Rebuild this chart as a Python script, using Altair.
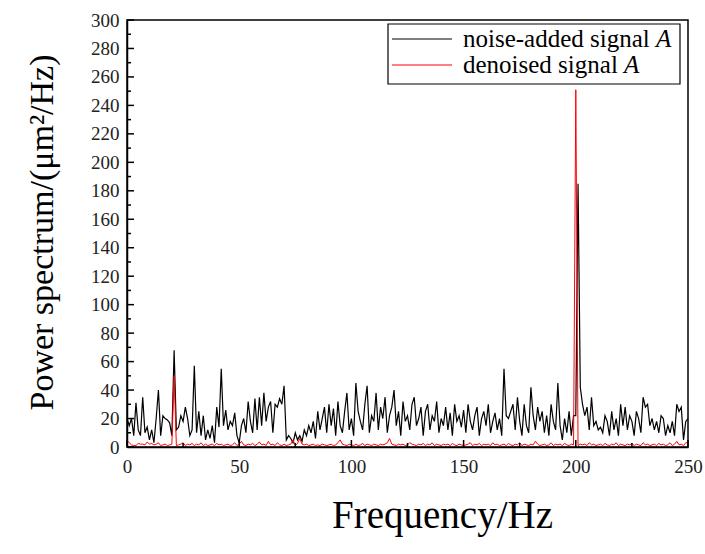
import altair as alt
import pandas as pd

freq = list(range(0, 251))

noise_added = [
    20, 15, 20, 8, 31, 12, 8, 35, 10, 14, 5, 12, 3, 20, 40, 8, 22, 20, 19, 17,
    8, 68, 12, 14, 22, 18, 28, 20, 8, 12, 57, 10, 25, 8, 22, 5, 12, 6, 15, 3,
    28, 14, 55, 15, 26, 12, 18, 15, 24, 8, 3, 15, 20, 10, 32, 18, 10, 34, 12, 35,
    15, 38, 18, 28, 32, 10, 30, 28, 34, 30, 43, 5, 8, 6, 3, 10, 5, 8, 4, 12,
    8, 15, 10, 18, 6, 25, 12, 20, 28, 10, 30, 15, 27, 8, 32, 15, 10, 25, 38, 12,
    20, 8, 45, 25, 18, 12, 30, 43, 10, 22, 18, 38, 12, 28, 20, 35, 10, 22, 28, 40,
    15, 25, 8, 32, 18, 22, 12, 30, 35, 15, 20, 28, 8, 25, 30, 12, 22, 18, 32, 10,
    20, 15, 28, 12, 24, 8, 30, 18, 22, 14, 26, 10, 30, 18, 12, 22, 28, 8, 20, 25,
    15, 30, 10, 18, 24, 12, 20, 8, 55, 22, 20, 25, 30, 12, 35, 18, 8, 30, 15, 10,
    42, 22, 12, 28, 18, 25, 10, 22, 8, 30, 18, 12, 45, 15, 5, 20, 10, 25, 8, 22,
    22, 185, 42, 30, 22, 28, 12, 35, 15, 18, 12, 14, 10, 22, 18, 8, 25, 12, 20, 8,
    30, 15, 28, 12, 22, 18, 8, 25, 20, 10, 35, 28, 30, 15, 20, 12, 18, 10, 22, 20,
    8, 15, 10, 18, 8, 30, 25, 28, 5, 18, 20,
]

denoised = [
    5, 3, 1.5, 1, 1, 2.5, 2, 2, 1.5, 3.5, 2, 2.5, 1.5, 2, 3, 1, 1.5, 2, 1, 1.5,
    2, 50, 1, 1.5, 2, 3, 1, 2, 1.5, 2.5, 1, 2, 1.5, 3, 1, 2, 1, 1.5, 2, 1,
    2.5, 1.5, 2, 1, 1.5, 2, 1, 1.5, 3, 1, 2, 4, 1.5, 1, 2, 1.5, 2.5, 1, 2, 3.5,
    1.5, 2, 1, 4, 1.5, 2, 1, 3, 1.5, 1, 2, 1, 1.5, 2, 5, 1, 2.5, 6, 2, 1.5,
    2, 1, 1.5, 2, 1, 1.5, 1, 2, 1.5, 1, 1.5, 2, 1, 1.5, 3, 5, 2, 1.5, 1, 2,
    1.5, 1, 2, 1, 1.5, 2.5, 1, 2, 1.5, 1, 2, 1.5, 1, 2, 1.5, 2, 3, 6, 2, 1.5,
    1, 2, 1.5, 2, 1, 1.5, 3, 2, 1.5, 1, 2, 1.5, 2.5, 1, 2, 1.5, 3, 1, 2, 1.5,
    1, 2, 1.5, 2, 1, 2.5, 1.5, 1, 2, 1.5, 1, 1.5, 2, 3, 1, 2, 1.5, 2.5, 1, 2,
    1.5, 2, 1, 3, 1.5, 2, 1, 1.5, 2, 1, 2.5, 1.5, 1, 2, 1.5, 3, 1, 2, 1.5, 1,
    2, 1.5, 4, 2, 1, 1.5, 2, 1, 1.5, 3, 1, 2, 1.5, 2, 1, 2.5, 1.5, 1, 2, 1.5,
    251, 1, 2, 1.5, 2, 1, 3, 1.5, 2, 1, 1.5, 2, 1, 2.5, 1.5, 1, 2, 1.5, 3, 1,
    2, 1.5, 1, 2, 1.5, 2.5, 1, 2, 1.5, 1, 3, 1.5, 2, 1, 1.5, 2, 1, 2.5, 1.5, 2,
    1, 1.5, 3, 1, 2, 4, 1.5, 2, 1, 3, 3,
]

series_names = ["noise-added signal A", "denoised signal A"]
legend_text = ["noise-added signal ", "denoised signal "]
legend_italic = ["A", "A"]
legend_text_width = [193, 161]  # px width of legend_text at the legend font size
series_colors = ["#000000", "#ff0000"]

x_ticks = [0, 50, 100, 150, 200, 250]
x_minor = [25, 75, 125, 175, 225]
y_ticks = list(range(0, 301, 20))
y_minor = list(range(10, 300, 20))

FONT = "Liberation Serif"
W, H = 561, 427
LEG_FS = 25

df_noise = pd.DataFrame({"f": freq, "p": noise_added, "s": series_names[0]})
df_den = pd.DataFrame({"f": freq, "p": denoised, "s": series_names[1]})

xscale = alt.Scale(domain=[0, 250], nice=False, zero=False)
yscale = alt.Scale(domain=[0, 300], nice=False)
cscale = alt.Scale(domain=series_names, range=series_colors)

xaxis = alt.Axis(
    values=x_ticks,
    tickSize=0,
    labelFont=FONT,
    labelFontSize=19,
    labelColor="#222",
    labelPadding=10,
    labelFlush=False,
    labelOverlap=False,
    domainColor="black",
    domainWidth=1.5,
    grid=False,
    title="Frequency/Hz",
    titleFont=FONT,
    titleFontSize=39,
    titleFontWeight="normal",
    titleColor="black",
    titleX=315,
    titleY=68,
    titleBaseline="middle",
)
yaxis = alt.Axis(
    values=y_ticks,
    tickSize=0,
    labelFont=FONT,
    labelFontSize=19,
    labelColor="#222",
    labelPadding=8,
    labelFlush=False,
    labelOverlap=False,
    domainColor="black",
    domainWidth=1.5,
    grid=False,
    title="Power spectrum/(μm²/Hz)",
    titleFont=FONT,
    titleFontSize=34,
    titleFontWeight="normal",
    titleColor="black",
    titleX=-85,
    titleY=212,
    titleAngle=-90,
    titleAlign="center",
    titleBaseline="middle",
)

X = lambda f: alt.X(f, scale=xscale, axis=xaxis)
Y = lambda f: alt.Y(f, scale=yscale, axis=yaxis)

noise_line = alt.Chart(df_noise).mark_line(strokeWidth=1.2).encode(
    x=X("f:Q"), y=Y("p:Q"),
    color=alt.Color("s:N", scale=cscale, legend=None),
)
den_line = alt.Chart(df_den).mark_line(strokeWidth=1.0).encode(
    x=X("f:Q"), y=Y("p:Q"),
    color=alt.Color("s:N", scale=cscale, legend=None),
)

# inward ticks
df_xt = pd.DataFrame({"f": x_ticks})
df_xm = pd.DataFrame({"f": x_minor})
df_yt = pd.DataFrame({"p": y_ticks})
df_ym = pd.DataFrame({"p": y_minor})

xt = alt.Chart(df_xt).mark_rule(color="black", strokeWidth=1.5).encode(
    x=X("f:Q"), y=alt.value(H), y2=alt.value(H - 7)
)
xm = alt.Chart(df_xm).mark_rule(color="black", strokeWidth=1.5).encode(
    x=X("f:Q"), y=alt.value(H), y2=alt.value(H - 4)
)
yt = alt.Chart(df_yt).mark_rule(color="black", strokeWidth=1.5).encode(
    y=Y("p:Q"), x=alt.value(0), x2=alt.value(7)
)
ym = alt.Chart(df_ym).mark_rule(color="black", strokeWidth=1.5).encode(
    y=Y("p:Q"), x=alt.value(0), x2=alt.value(4)
)

# legend: box, line samples, labels (from the series lists)
one = pd.DataFrame({"k": [0]})
layers = [noise_line, den_line, xt, xm, yt, ym]
layers.append(
    alt.Chart(one).mark_rect(fill="white", stroke="black", strokeWidth=1.2).encode(
        x=alt.value(261), x2=alt.value(553), y=alt.value(4), y2=alt.value(64)
    )
)
for i, name in enumerate(series_names):
    ly = 19 + 26 * i
    layers.append(
        alt.Chart(one).mark_rule(strokeWidth=1.2).encode(
            x=alt.value(265), x2=alt.value(325), y=alt.value(ly),
            color=alt.value(series_colors[i]),
        )
    )
    layers.append(
        alt.Chart(one).mark_text(
            align="left", baseline="middle", font=FONT, fontSize=LEG_FS, color="black"
        ).encode(x=alt.value(336), y=alt.value(ly), text=alt.value(legend_text[i]))
    )
    layers.append(
        alt.Chart(one).mark_text(
            align="left", baseline="middle", font=FONT, fontSize=LEG_FS,
            fontStyle="italic", color="black"
        ).encode(
            x=alt.value(336 + legend_text_width[i]), y=alt.value(ly),
            text=alt.value(legend_italic[i]),
        )
    )

chart = alt.layer(*layers).properties(
    width=W,
    height=H,
    autosize=alt.AutoSizeParams(type="none"),
    padding={"left": 127, "top": 20, "right": 17, "bottom": 107},
    background="white",
).configure_view(stroke="black", strokeWidth=1.5)

chart.save("out.html", embed_options={"renderer": "svg", "actions": False})
